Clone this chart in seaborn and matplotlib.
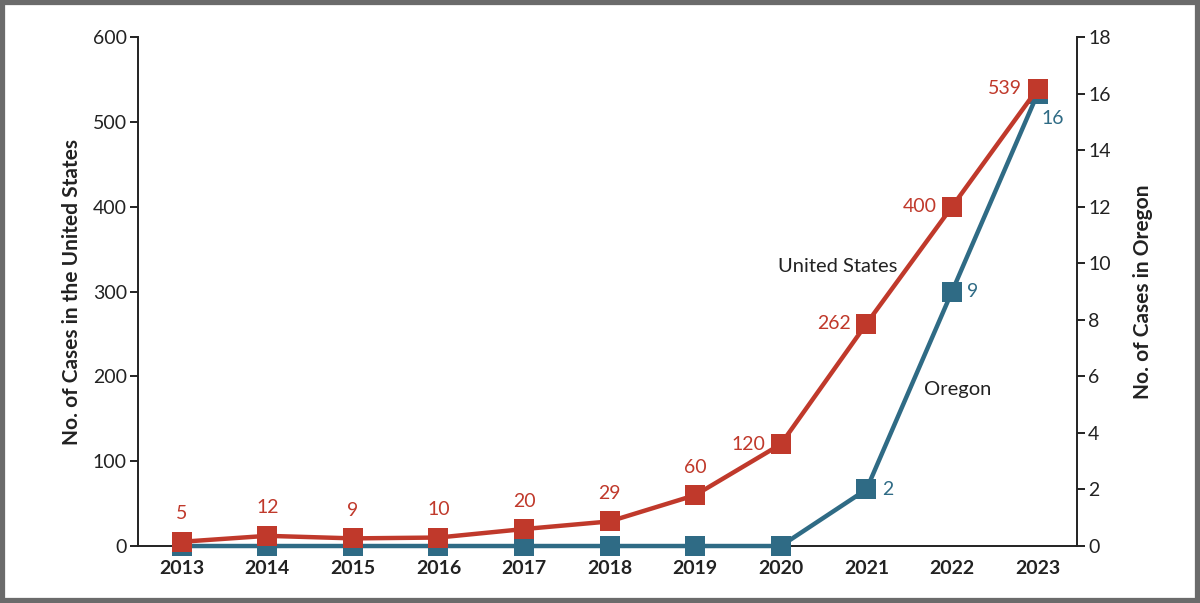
import numpy as np
import pandas as pd
import seaborn as sns
from matplotlib import pyplot as plt
from matplotlib.patches import Rectangle

years = [2013, 2014, 2015, 2016, 2017, 2018, 2019, 2020, 2021, 2022, 2023]
us_cases = [5, 12, 9, 10, 20, 29, 60, 120, 262, 400, 539]
oregon_cases = [0, 0, 0, 0, 0, 0, 0, 0, 2, 9, 16]
us_ticks = [0, 100, 200, 300, 400, 500, 600]
or_ticks = [0, 2, 4, 6, 8, 10, 12, 14, 16, 18]

RED = "#c0392b"
BLUE = "#2f6b85"
INK = "#222222"

sns.set_theme(style="white")
plt.rcParams['font.family'] = ['Lato', 'DejaVu Sans']

df = pd.DataFrame({"year": years, "us": us_cases, "oregon": oregon_cases})

fig = plt.figure(figsize=(12, 6.03), dpi=100)
ax = fig.add_axes([0.115, 0.0945, 0.7825, 0.8441])
ax2 = ax.twinx()
# keep the US line on top of the Oregon line
ax.set_zorder(ax2.get_zorder() + 1)
ax.patch.set_visible(False)

sns.lineplot(data=df, x="year", y="oregon", ax=ax2, color=BLUE, lw=3.2,
             marker="s", markersize=14, markeredgewidth=0, zorder=3, clip_on=False)
sns.lineplot(data=df, x="year", y="us", ax=ax, color=RED, lw=3.2,
             marker="s", markersize=14, markeredgewidth=0, zorder=3, clip_on=False)

ax.set_xlim(2012.49, 2023.46)
ax.set_ylim(0, 600)
ax2.set_ylim(0, 18)
ax.set_yticks(us_ticks)
ax2.set_yticks(or_ticks)
ax.set_xticks(years)
ax.set_xticklabels([str(y) for y in years], fontweight="bold", fontsize=14)
ax2.set_xticks(years)

for a in (ax, ax2):
    for s in a.spines.values():
        s.set_visible(False)
    a.grid(False)
ax.spines["left"].set_visible(True)
ax.spines["left"].set_color(INK)
ax.spines["left"].set_linewidth(1.4)
ax2.spines["right"].set_visible(True)
ax2.spines["right"].set_color(INK)
ax2.spines["right"].set_linewidth(1.4)
ax2.spines["bottom"].set_visible(True)
ax2.spines["bottom"].set_color(INK)
ax2.spines["bottom"].set_linewidth(1.4)
ax2.spines["bottom"].set_zorder(1)

ax.tick_params(axis="y", direction="out", length=6, width=1.4, color=INK,
               labelsize=14, labelcolor=INK, left=True, pad=2)
ax.tick_params(axis="x", length=0, labelsize=14, labelcolor=INK, pad=10)
ax2.tick_params(axis="y", direction="out", length=6, width=1.4, color=INK,
                labelsize=14, labelcolor=INK, right=True, pad=2)
ax2.tick_params(axis="x", direction="out", length=6, width=1.4, color=INK,
                bottom=True, labelbottom=False)

ax.set_xlabel("")
ax.set_ylabel("No. of Cases in the United States", fontsize=15, fontweight="bold",
              color=INK, labelpad=8)
ax2.set_ylabel("No. of Cases in Oregon", fontsize=15, fontweight="bold",
               color=INK, labelpad=16, rotation=90)

# value labels
for yr, v in zip(years, us_cases):
    if yr <= 2019:
        ax.annotate(str(v), (yr, v), xytext=(0, 14), textcoords="offset points",
                    ha="center", va="bottom", color=RED, fontsize=14)
    else:
        ax.annotate(str(v), (yr, v), xytext=(-11, 0), textcoords="offset points",
                    ha="right", va="center", color=RED, fontsize=14)
for yr, v in zip(years, oregon_cases):
    if yr in (2021, 2022):
        ax2.annotate(str(v), (yr, v), xytext=(11, 0), textcoords="offset points",
                     ha="left", va="center", color=BLUE, fontsize=14)
    elif yr == 2023:
        ax2.annotate(str(v), (yr, v), xytext=(3, -18), textcoords="offset points",
                     ha="left", va="center", color=BLUE, fontsize=14)

ax.text(2020.66, 330, "United States", ha="center", va="center", fontsize=14.5, color=INK)
ax.text(2022.07, 184, "Oregon", ha="center", va="center", fontsize=14.5, color=INK)

fig.patches.append(Rectangle((0.002, 0.003), 0.996, 0.994, transform=fig.transFigure,
                             fill=False, edgecolor="#6b6b6b", linewidth=4.5))

fig.savefig("out.png", dpi=100, facecolor="white")
